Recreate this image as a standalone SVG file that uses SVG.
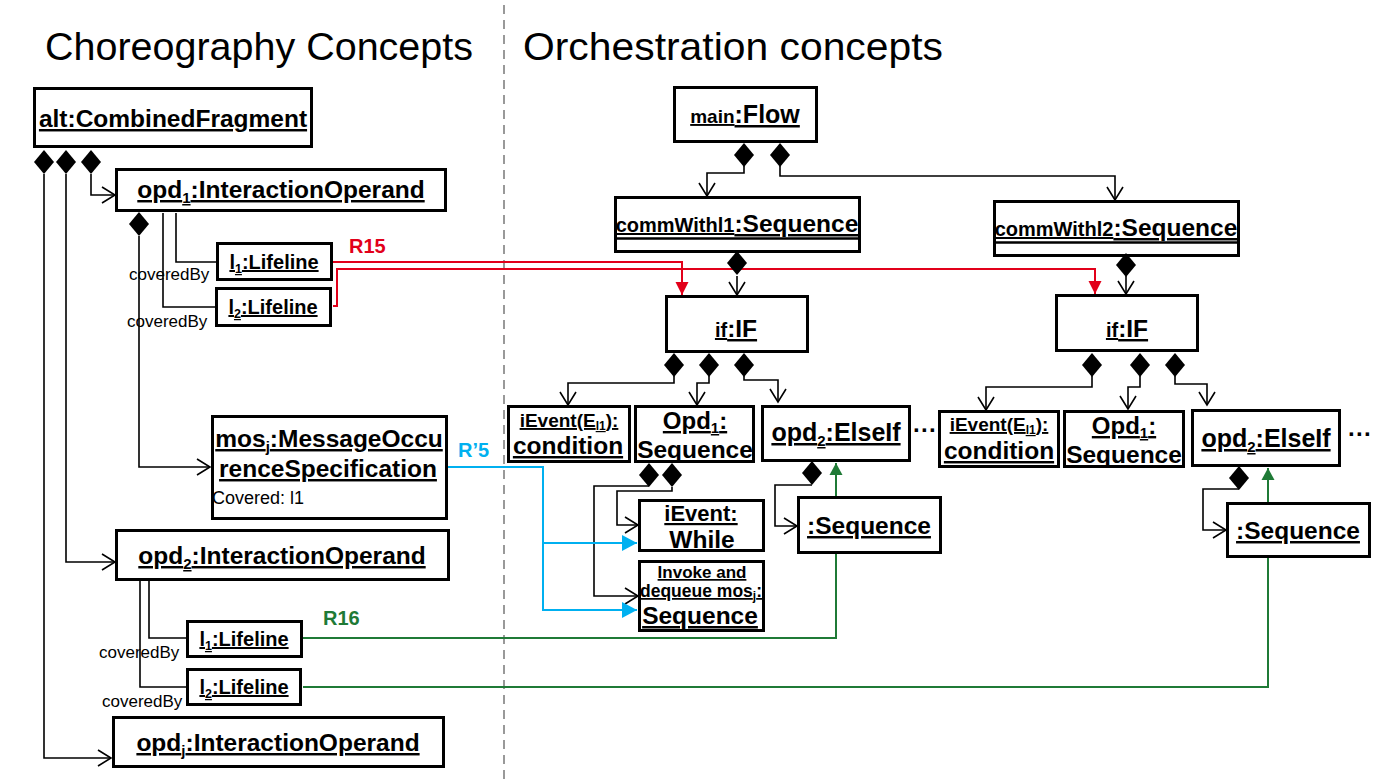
<svg xmlns="http://www.w3.org/2000/svg" xmlns:xlink="http://www.w3.org/1999/xlink" width="1375" height="779" viewBox="0 0 1375 779">
<style>
text{font-family:"Liberation Sans",Arial,sans-serif}
.b{font-weight:bold;text-decoration:underline;text-anchor:middle}
.nu{font-weight:bold;text-anchor:middle}
.reg{font-size:17px}
.ttl{font-size:39px}
.box{fill:#fff;stroke:#000;stroke-width:3}
.ln{fill:none;stroke:#000;stroke-width:1.6}
.sep{stroke:#000;stroke-width:2.5}
.red{fill:none;stroke:#e2001a;stroke-width:2}
.grn{fill:none;stroke:#1f7a36;stroke-width:2}
.blu{fill:none;stroke:#00b0f0;stroke-width:2}
.lbl{font-weight:bold;font-size:20px}
</style>
<defs>
<marker id="oa" markerUnits="userSpaceOnUse" markerWidth="18" markerHeight="20" refX="14" refY="9" orient="auto" overflow="visible"><path d="M1,1 L14,9 L1,17" fill="none" stroke="#000" stroke-width="1.6"/></marker>
<marker id="ra" markerUnits="userSpaceOnUse" markerWidth="14" markerHeight="14" refX="13" refY="6.5" orient="auto" overflow="visible"><path d="M0,0 L13,6.5 L0,13 Z" fill="#e2001a"/></marker>
<marker id="ga" markerUnits="userSpaceOnUse" markerWidth="14" markerHeight="14" refX="12" refY="6.5" orient="auto" overflow="visible"><path d="M0,0 L12,6.5 L0,13 Z" fill="#1f7a36"/></marker>
<marker id="ba" markerUnits="userSpaceOnUse" markerWidth="16" markerHeight="18" refX="15" refY="8" orient="auto" overflow="visible"><path d="M0,0 L15,8 L0,16 Z" fill="#00b0f0"/></marker>
<path id="dm" d="M0,0 L10,12 L0,24 L-10,12 Z" fill="#000"/>
</defs>
<rect width="1375" height="779" fill="#fff"/>
<line x1="504" y1="5" x2="504" y2="779" stroke="#808080" stroke-width="1.6" stroke-dasharray="9,6"/>
<text class="ttl" x="45" y="60" textLength="428" lengthAdjust="spacingAndGlyphs">Choreography Concepts</text>
<text class="ttl" x="523" y="60" textLength="420" lengthAdjust="spacingAndGlyphs">Orchestration concepts</text>

<g id="connectors">
<path class="ln" d="M44,174 V758 H111" marker-end="url(#oa)"/>
<path class="ln" d="M66,174 V562 H115" marker-end="url(#oa)"/>
<path class="ln" d="M91,174 V195 H115" marker-end="url(#oa)"/>
<path class="ln" d="M139,236 V467 H210" marker-end="url(#oa)"/>
<path class="ln" d="M176,213 V262 H216"/>
<path class="ln" d="M163,213 V307 H216"/>
<path class="ln" d="M149,581 V638 H187"/>
<path class="ln" d="M140,581 V687 H187"/>
<path class="ln" d="M744,166 V173 H707 V196" marker-end="url(#oa)"/>
<path class="ln" d="M780,166 V176 H1115 V200" marker-end="url(#oa)"/>
<path class="ln" d="M737,276 V295" marker-end="url(#oa)"/>
<path class="ln" d="M1126,276 V294" marker-end="url(#oa)"/>
<path class="ln" d="M674,376 V383 H568 V405" marker-end="url(#oa)"/>
<path class="ln" d="M709,376 V383 H697 V405" marker-end="url(#oa)"/>
<path class="ln" d="M744,376 V380 H778 V402" marker-end="url(#oa)"/>
<path class="ln" d="M649,486 H594 V596 H638" marker-end="url(#oa)"/>
<path class="ln" d="M672,487 V491 H617 V525 H638" marker-end="url(#oa)"/>
<path class="ln" d="M812,485 H775 V526 H797" marker-end="url(#oa)"/>
<path class="ln" d="M1092,376 V387 H986 V410" marker-end="url(#oa)"/>
<path class="ln" d="M1140,376 V387 H1128 V409" marker-end="url(#oa)"/>
<path class="ln" d="M1175,376 V384 H1207 V405" marker-end="url(#oa)"/>
<path class="ln" d="M1239,489 H1203 V530 H1226" marker-end="url(#oa)"/>
<path class="red" d="M333,262 H682 V295" marker-end="url(#ra)"/>
<path class="red" d="M333,306 H337 V269 H1095 V294" marker-end="url(#ra)"/>
<path class="blu" d="M448,467 H543 V610 H637" marker-end="url(#ba)"/>
<path class="blu" d="M543,543 H637" marker-end="url(#ba)"/>
<path class="grn" d="M303,638 H836 V463" marker-end="url(#ga)"/>
<path class="grn" d="M303,687 H1268 V468" marker-end="url(#ga)"/>
<text class="lbl" x="349" y="253" fill="#e2001a">R15</text>
<text class="lbl" x="458" y="457" fill="#00b0f0">R’5</text>
<text class="lbl" x="323" y="625" fill="#1f7a36">R16</text>
</g>

<g id="alt">
<rect class="box" x="34.5" y="88.5" width="277" height="58"/>
<text class="b" x="173" y="127" font-size="24.5">alt:CombinedFragment</text>
<use xlink:href="#dm" x="44" y="150"/><use xlink:href="#dm" x="66" y="150"/><use xlink:href="#dm" x="91" y="150"/>
</g>
<g id="opd1">
<rect class="box" x="116.5" y="169.5" width="329" height="41"/>
<text class="b" x="281" y="198" font-size="24.5">opd<tspan font-size="15" dy="5">1</tspan><tspan dy="-5">:InteractionOperand</tspan></text>
<use xlink:href="#dm" x="139" y="212"/>
</g>
<g id="l1a">
<rect class="box" x="217.5" y="243.5" width="114" height="36"/>
<text class="b" x="274" y="269" font-size="20">l<tspan font-size="12.5" dy="4">1</tspan><tspan dy="-4">:Lifeline</tspan></text>
<text class="reg" x="129" y="280">coveredBy</text>
</g>
<g id="l2a">
<rect class="box" x="216.5" y="288.5" width="114" height="37"/>
<text class="b" x="273" y="314" font-size="20">l<tspan font-size="12.5" dy="4">2</tspan><tspan dy="-4">:Lifeline</tspan></text>
<text class="reg" x="127" y="327">coveredBy</text>
</g>
<g id="mos">
<rect class="box" x="212.5" y="416.5" width="234" height="102"/>
<text class="b" x="329" y="447" font-size="24.5">mos<tspan font-size="15" dy="5">j</tspan><tspan dy="-5">:MessageOccu</tspan></text>
<text class="b" x="328" y="477" font-size="24.5">renceSpecification</text>
<text x="212" y="504" font-size="18">Covered: l1</text>
</g>
<g id="opd2">
<rect class="box" x="116.5" y="530.5" width="332" height="49"/>
<text class="b" x="282" y="564" font-size="24.5">opd<tspan font-size="15" dy="5">2</tspan><tspan dy="-5">:InteractionOperand</tspan></text>
</g>
<g id="l1b">
<rect class="box" x="187.5" y="621.5" width="114" height="35"/>
<text class="b" x="244" y="646" font-size="20">l<tspan font-size="12.5" dy="4">1</tspan><tspan dy="-4">:Lifeline</tspan></text>
<text class="reg" x="99" y="658">coveredBy</text>
</g>
<g id="l2b">
<rect class="box" x="187.5" y="669.5" width="113" height="35"/>
<text class="b" x="244" y="694" font-size="20">l<tspan font-size="12.5" dy="4">2</tspan><tspan dy="-4">:Lifeline</tspan></text>
<text class="reg" x="102" y="707">coveredBy</text>
</g>
<g id="opdj">
<rect class="box" x="113.5" y="717.5" width="330" height="49"/>
<text class="b" x="278" y="751" font-size="24.5">opd<tspan font-size="15" dy="5">j</tspan><tspan dy="-5">:InteractionOperand</tspan></text>
</g>

<g id="main">
<rect class="box" x="674.5" y="87.5" width="142" height="54"/>
<text class="b" x="745" y="123" font-size="25"><tspan font-size="19">main</tspan><tspan>:Flow</tspan></text>
<use xlink:href="#dm" x="744" y="143"/><use xlink:href="#dm" x="780" y="143"/>
</g>
<g id="comm1">
<rect class="box" x="615.5" y="197.5" width="244" height="54"/>
<text class="b" x="737" y="232" font-size="24.5"><tspan font-size="20">commWithl1</tspan><tspan>:Sequence</tspan></text>
<line class="sep" x1="615" y1="238.5" x2="860" y2="238.5"/>
<use xlink:href="#dm" x="737" y="251"/>
</g>
<g id="comm2">
<rect class="box" x="994.5" y="201.5" width="244" height="54"/>
<text class="b" x="1116" y="236" font-size="24.5"><tspan font-size="20">commWithl2</tspan><tspan>:Sequence</tspan></text>
<line class="sep" x1="994" y1="242.5" x2="1239" y2="242.5"/>
<use xlink:href="#dm" x="1126" y="253"/>
</g>
<g id="if1">
<rect class="box" x="666.5" y="296.5" width="141" height="55"/>
<text class="b" x="736" y="337" font-size="24.5"><tspan font-size="20">if</tspan><tspan>:IF</tspan></text>
<use xlink:href="#dm" x="674" y="353"/><use xlink:href="#dm" x="709" y="353"/><use xlink:href="#dm" x="744" y="353"/>
</g>
<g id="if2">
<rect class="box" x="1056.5" y="295.5" width="141" height="55"/>
<text class="b" x="1127" y="337" font-size="24.5"><tspan font-size="20">if</tspan><tspan>:IF</tspan></text>
<use xlink:href="#dm" x="1092" y="353"/><use xlink:href="#dm" x="1140" y="353"/><use xlink:href="#dm" x="1175" y="353"/>
</g>
<g id="cond1">
<rect class="box" x="508.5" y="406.5" width="121" height="55"/>
<text class="b" x="569" y="427" font-size="19">iEvent(E<tspan font-size="12" dy="3">l1</tspan><tspan dy="-3">):</tspan></text>
<text class="b" x="568" y="454" font-size="24.5">condition</text>
</g>
<g id="opd1seq1">
<rect class="box" x="635.5" y="406.5" width="118" height="55"/>
<text class="b" x="695" y="429" font-size="24">Opd<tspan font-size="15" dy="4">1</tspan><tspan dy="-4">:</tspan></text>
<text class="b" x="695" y="458" font-size="24.5">Sequence</text>
<use xlink:href="#dm" x="649" y="463"/><use xlink:href="#dm" x="672" y="463"/>
</g>
<g id="elseif1">
<rect class="box" x="762.5" y="406.5" width="147" height="54"/>
<text class="b" x="836" y="441" font-size="25">opd<tspan font-size="15" dy="5">2</tspan><tspan dy="-5">:ElseIf</tspan></text>
<use xlink:href="#dm" x="812" y="461"/>
</g>
<g id="while">
<rect class="box" x="639.5" y="500.5" width="124" height="50"/>
<text class="b" x="701" y="521" font-size="22">iEvent:</text>
<text class="nu" x="702" y="548" font-size="24.5">While</text>
</g>
<g id="invoke">
<rect class="box" x="639.5" y="561.5" width="124" height="69"/>
<text class="b" x="702" y="578" font-size="17">Invoke and</text>
<text class="b" x="701" y="597" font-size="17.5">dequeue mos<tspan font-size="12" dy="3">j</tspan><tspan dy="-3">:</tspan></text>
<text class="b" x="700" y="624" font-size="24.5">Sequence</text>
</g>
<g id="seq1">
<rect class="box" x="798.5" y="497.5" width="142" height="55"/>
<text class="b" x="869" y="534" font-size="24.5">:Sequence</text>
</g>
<g id="dots1"><text class="nu" x="925" y="438" font-size="24">···</text></g>
<g id="cond2">
<rect class="box" x="939.5" y="411.5" width="119" height="55"/>
<text class="b" x="999" y="431" font-size="19">iEvent(E<tspan font-size="12" dy="3">l1</tspan><tspan dy="-3">):</tspan></text>
<text class="b" x="999" y="459" font-size="24.5">condition</text>
</g>
<g id="opd1seq2">
<rect class="box" x="1064.5" y="411.5" width="119" height="55"/>
<text class="b" x="1124" y="434" font-size="24">Opd<tspan font-size="15" dy="4">1</tspan><tspan dy="-4">:</tspan></text>
<text class="b" x="1124" y="463" font-size="24.5">Sequence</text>
</g>
<g id="elseif2">
<rect class="box" x="1192.5" y="410.5" width="147" height="55"/>
<text class="b" x="1266" y="447" font-size="25">opd<tspan font-size="15" dy="5">2</tspan><tspan dy="-5">:ElseIf</tspan></text>
<use xlink:href="#dm" x="1239" y="466"/>
</g>
<g id="dots2"><text class="nu" x="1360" y="442" font-size="24">···</text></g>
<g id="seq2">
<rect class="box" x="1227.5" y="503.5" width="142" height="53"/>
<text class="b" x="1298" y="539" font-size="24.5">:Sequence</text>
</g>
</svg>
